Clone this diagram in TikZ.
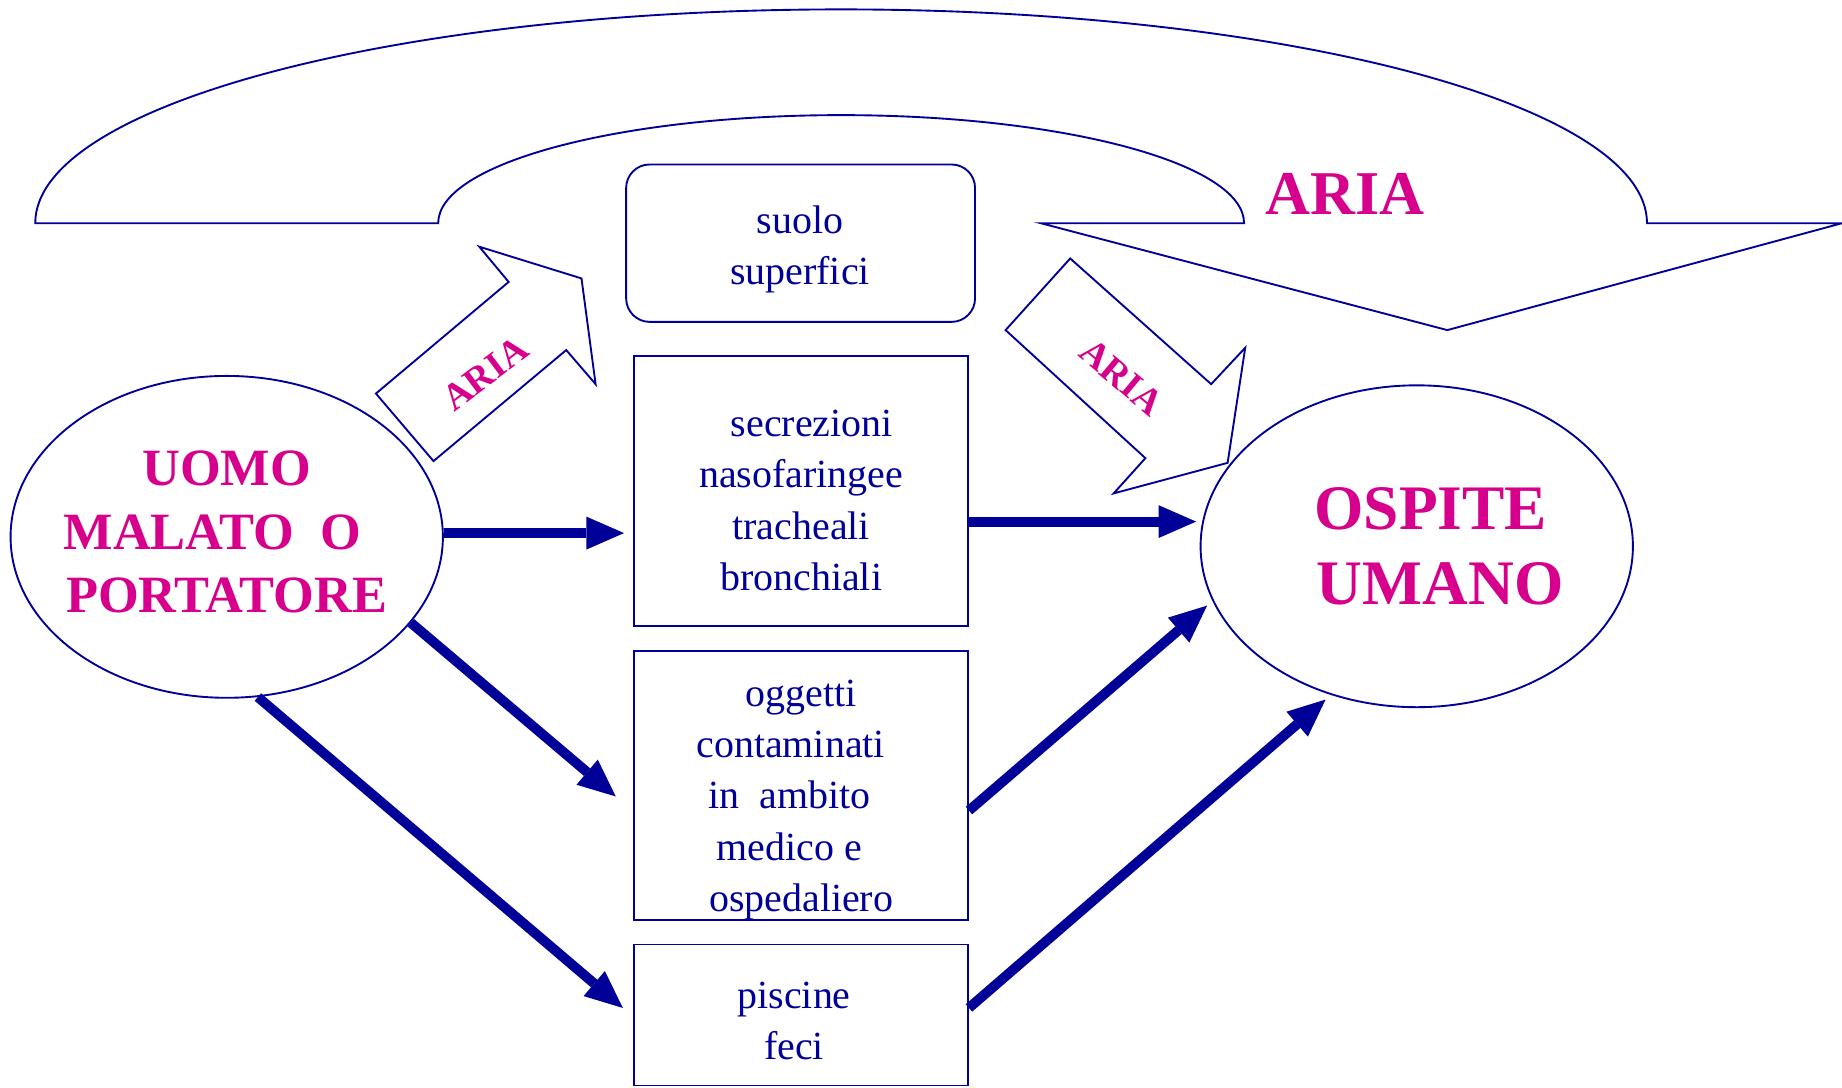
\documentclass[tikz,border=0pt]{standalone}
\usepackage{fontspec}
\setmainfont{Liberation Serif}
\usetikzlibrary{shapes.geometric,arrows.meta,calc}
\definecolor{navy}{HTML}{000099}
\definecolor{rosa}{HTML}{D6008C}
% fixed-width blank used to nudge individual lines of centred text
\newcommand{\gapbox}[1]{\hbox to #1{}}

\begin{document}
\begin{tikzpicture}[x=0.5pt,y=-0.5pt,
  thinline/.style={draw=navy,line width=0.8pt},
  holder/.style={thinline,ellipse,minimum width=184pt,minimum height=137pt,inner sep=0pt},
  vehicle/.style={thinline,rectangle,minimum width=142pt,inner sep=0pt},
  bluetext/.style={text=navy,font=\fontsize{17}{21.8}\selectfont,align=center,inner sep=0pt},
  pinktext/.style={text=rosa,font=\bfseries\fontsize{22.3}{27}\selectfont,align=center,inner sep=0pt},
  flow/.style={draw=navy,line width=4.2pt,-{Triangle[length=16pt,width=14pt,line width=0pt]}},
  airlabel/.style={text=rosa,font=\bfseries\fontsize{16}{18}\selectfont,inner sep=0pt}
]
\useasboundingbox (0,0) rectangle (1568,926);

% large curved air arrow across the top
\draw[thinline] (30,190) arc[start angle=180,end angle=360,x radius=686,y radius=182]
  -- (1568,190) -- (1232,281) -- (886,190) -- (1059,190)
  arc[start angle=0,end angle=-180,x radius=343,y radius=92] -- cycle;
\node[airlabel,font=\bfseries\fontsize{26.5}{30}\selectfont] (ariatop) at (1145,165) {ARIA};

% block arrow, source towards the soil box
\draw[thinline] (320,335) -- (433,240) -- (408,210) -- (495,237) -- (507,327)
  -- (482,298) -- (369,392.5) -- cycle;
\node[airlabel,rotate=37] (arialeft) at (413,318) {ARIA};

% block arrow, soil box towards the host
\draw[thinline] (856,281) -- (911,220) -- (1031,327) -- (1060,296) -- (1045,394)
  -- (948,420) -- (975,390) -- cycle;
\node[airlabel,rotate=-40] (ariaright) at (955,321) {ARIA};

% source and host
\node[holder] (uomo) at (193,457) {};
\node[pinktext] (uomotxt) at (193,453) {UOMO\\MALATO~~O\gapbox{12pt}\\PORTATORE};
\node[holder] (ospite) at (1206,465) {};
\node[pinktext,font=\bfseries\fontsize{27}{32}\selectfont] (ospitetxt) at (1222,465)
  {OSPITE\gapbox{4pt}\\\gapbox{4pt}UMANO};

% vehicles
\node[thinline,rounded corners=10pt,minimum width=148.5pt,minimum height=67pt,inner sep=0pt]
  (suolo) at (681.5,207) {};
\node[bluetext] (suolotxt) at (681,212) {suolo\\superfici};
\node[vehicle,minimum height=115pt] (sec) at (682,418) {};
\node[bluetext] (sectxt) at (682,426)
  {\hspace*{9pt}secrezioni\\nasofaringee\\tracheali\\bronchiali};
\node[vehicle,minimum height=114.5pt] (obj) at (682,668.5) {};
\node[bluetext] (objtxt) at (682,681)
  {oggetti\\contaminati\gapbox{9pt}\\in~~ambito\gapbox{10pt}\\medico e\gapbox{10pt}\\ospedaliero};
\node[vehicle,minimum height=60pt] (pisc) at (682,864) {};
\node[bluetext] (pisctxt) at (676,869) {piscine\\feci};

% transmission routes
\draw[flow] (uomo.1) -- ($(sec.west |- uomo.1)+(-4pt,0)$);
\draw[flow] (uomo.-25) -- ($(obj.west)+(-7.5pt,-4.75pt)$);
\draw[flow] (uomo.-79) -- ($(pisc.west)+(-4.5pt,3pt)$);
\draw[flow] ($(sec.east)+(0,-13pt)$) -- ($(sec.east -| ospite.west)+(-1.5pt,-13pt)$);
\draw[flow,shorten >=3pt] ($(obj.east)+(0,-10.75pt)$) -- (ospite.195);
\draw[flow,shorten >=3pt] ($(pisc.east)+(0,3pt)$) -- (ospite.240);
\end{tikzpicture}
\end{document}
